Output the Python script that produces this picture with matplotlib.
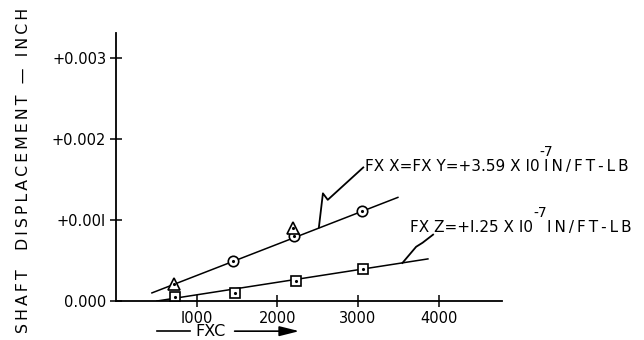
import matplotlib
matplotlib.use("Agg")
import matplotlib.pyplot as plt
import numpy as np

plt.rcParams['font.family'] = ['DejaVu Sans']

# data
circ_x = [1450, 2206, 3050]
circ_y = [0.00049, 0.00080, 0.00111]
tri_x = [720, 2195]
tri_y = [0.00021, 0.00090]
sq_x = [730, 1475, 2230, 3060]
sq_y = [0.00005, 0.00010, 0.00025, 0.00040]

fxx_line_x = [446, 3494]
fxx_line_y = [0.00010, 0.00128]
fxz_line_x = [508, 3866]
fxz_line_y = [0.0000, 0.00052]

# hand drawn leaders
fxx_lead_x = [3065, 2625, 2565, 2515]
fxx_lead_y = [0.00165, 0.00125, 0.00133, 0.00091]
fxz_lead_x = [3930, 3800, 3720, 3550]
fxz_lead_y = [0.00082, 0.00072, 0.00067, 0.00047]

xticks = [1000, 2000, 3000, 4000]
yticks = [0.0, 0.001, 0.002, 0.003]
ytick_labels = ['0.000', '+0.00I', '+0.002', '+0.003']

fxx_text = 'FX X=FX Y=+3.59 X I0'
fxz_text = 'FX Z=+I.25 X I0'
exp_text = '-7'
unit_text = 'IN/FT-LB'
ylabel_text = 'SHAFT  DISPLACEMENT \u2014 INCH'


def spaced(s):
    # lettering-guide look: thin space between every letter
    return '\u2009'.join(s)


def label(x, y, main, gap):
    t = ax.text(x, y, main, fontsize=11, va='baseline', ha='left')
    ax.annotate(exp_text, xy=(1, 1), xycoords=t, xytext=(0, 0),
                textcoords='offset points', fontsize=10, va='bottom', ha='left')
    ax.annotate(spaced(unit_text), xy=(1, 0), xycoords=t, xytext=(gap, 0),
                textcoords='offset points', fontsize=11, va='bottom', ha='left')


fig = plt.figure(figsize=(6.44, 3.4), dpi=100)
ax = fig.add_axes([0.180, 0.1147, 0.599, 0.788])

ax.plot(fxx_line_x, fxx_line_y, color='black', lw=1.1)
ax.plot(fxz_line_x, fxz_line_y, color='black', lw=1.1)
ax.plot(fxx_lead_x, fxx_lead_y, color='black', lw=1.3)
ax.plot(fxz_lead_x, fxz_lead_y, color='black', lw=1.3)

ax.plot(circ_x, circ_y, 'o', ms=7.5, mfc='white', mec='black', mew=1.2)
ax.plot(circ_x, circ_y, '.', ms=2.5, color='black')
ax.plot(tri_x, tri_y, '^', ms=8, mfc='white', mec='black', mew=1.2)
ax.plot(tri_x, tri_y, '.', ms=2.5, color='black')
ax.plot(sq_x, sq_y, 's', ms=6.5, mfc='white', mec='black', mew=1.2)
ax.plot(sq_x, sq_y, '.', ms=2.5, color='black')

ax.set_xlim(0, 4780)
ax.set_ylim(0, 0.00331)
ax.spines['top'].set_visible(False)
ax.spines['right'].set_visible(False)
ax.spines['left'].set_linewidth(1.3)
ax.spines['bottom'].set_linewidth(1.3)
ax.set_xticks(xticks)
ax.set_xticklabels([str(t).replace('1', 'I') for t in xticks], fontsize=10.5)
ax.set_yticks(yticks)
ax.set_yticklabels(ytick_labels, fontsize=10.5)
ax.tick_params(direction='inout', length=8, width=1.1, pad=3)

label(3085, 0.00160, fxx_text, 3)
label(3643, 0.00085, fxz_text, 10)

fig.text(0.037, 0.50, spaced(ylabel_text), rotation=90,
         fontsize=11.3, ha='center', va='center')

# x label with arrow
fig.text(0.327, 0.024, 'FXC', fontsize=11.5, ha='center', va='center')
fig.add_artist(plt.Line2D([0.244, 0.295], [0.026, 0.026], color='black', lw=1.2))
ax.annotate('', xy=(0.469, 0.026), xytext=(0.36, 0.026),
            xycoords='figure fraction', textcoords='figure fraction',
            arrowprops=dict(arrowstyle='-|>,head_length=1.2,head_width=0.3',
                            color='black', lw=1.2))

fig.savefig('out.png', dpi=100)
